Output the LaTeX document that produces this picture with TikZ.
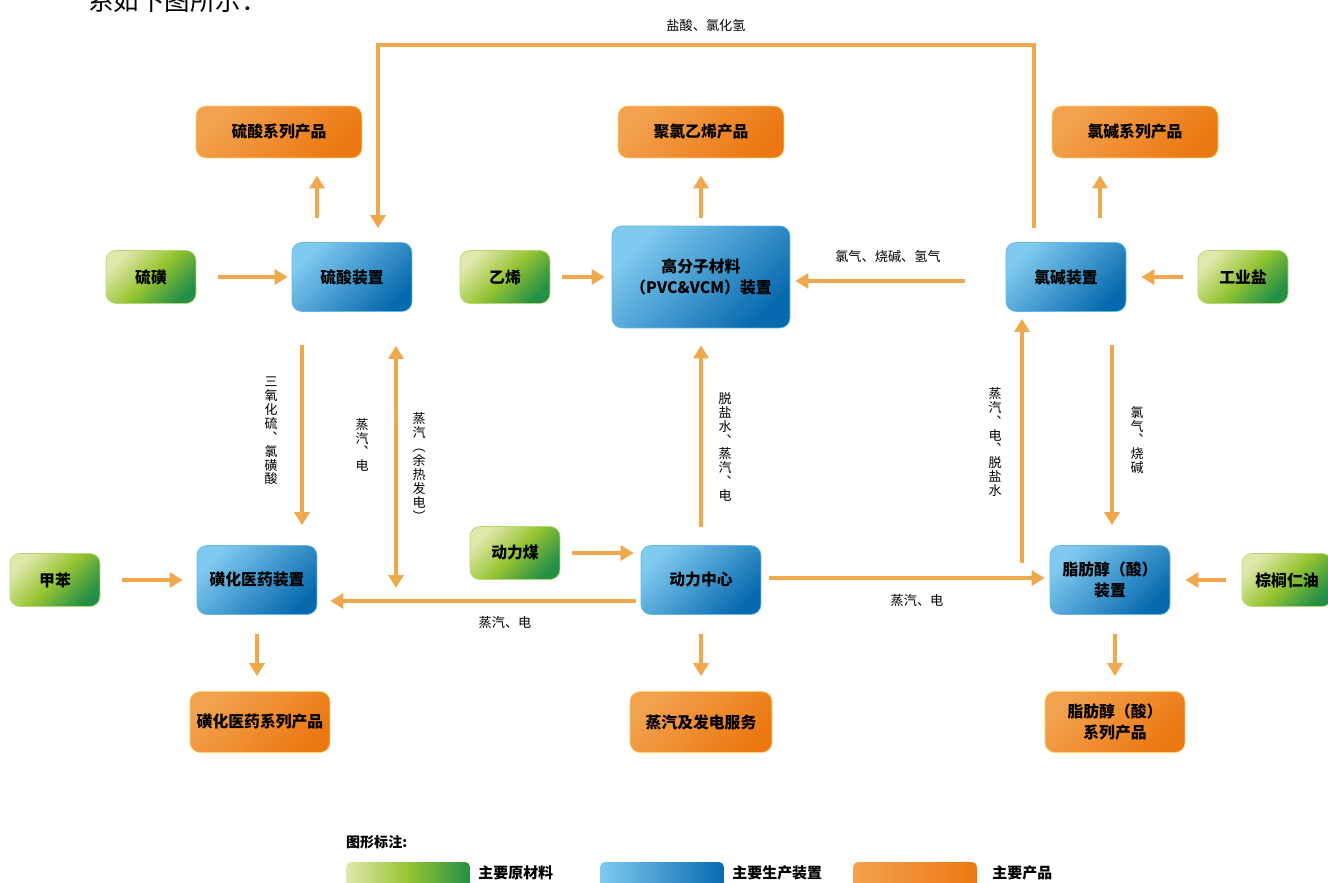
\documentclass[tikz,border=0pt]{standalone}
\usepackage{fontspec}
\setmainfont{Noto Sans CJK SC}
\usepackage{tikz}
\usetikzlibrary{arrows.meta, positioning}

\definecolor{flowc}{RGB}{239,168,76}
\definecolor{rawlt}{RGB}{224,232,172}
\definecolor{rawmd}{RGB}{150,196,50}
\definecolor{rawdk}{RGB}{36,144,70}
\definecolor{unitlt}{RGB}{128,202,240}
\definecolor{unitdk}{RGB}{8,106,174}
\definecolor{prodlt}{RGB}{242,162,78}
\definecolor{proddk}{RGB}{236,120,18}
\definecolor{prodbd}{RGB}{250,208,112}

\begin{document}
\begin{tikzpicture}[
  x=0.02cm, y=-0.02cm,
  box/.style={rectangle, rounded corners=0.2cm, align=center, inner sep=2pt, font=\fontsize{9}{12}\selectfont\bfseries},
  raw/.style={box, minimum width=1.8cm, minimum height=1.06cm, draw=rawmd!70, top color=rawlt, bottom color=rawdk, middle color=rawmd, shading angle=45},
  unit/.style={box, minimum width=2.4cm, minimum height=1.38cm, draw=unitlt!80!unitdk, top color=unitlt, bottom color=unitdk, shading angle=45},
  prod/.style={box, minimum width=3.32cm, minimum height=1.04cm, draw=prodbd, top color=prodlt, bottom color=proddk, shading angle=45},
  flow/.style={draw=flowc, line width=0.08cm, -{Triangle[width=0.3cm,length=0.26cm]}},
  flowboth/.style={draw=flowc, line width=0.08cm, {Triangle[width=0.3cm,length=0.26cm]}-{Triangle[width=0.3cm,length=0.26cm]}},
  lbl/.style={font=\fontsize{7.5}{9}\selectfont, inner sep=1pt},
  vlbl/.style={align=center, inner sep=1pt, font=\fontsize{7.4}{7.9}\selectfont},
  legbar/.style={rectangle, rounded corners=0.1cm, minimum width=2.48cm, minimum height=0.6cm},
  legtext/.style={font=\fontsize{8.5}{10}\selectfont\bfseries, inner sep=1pt}
  ]
\useasboundingbox (0,0) rectangle (1328,882);

% Nodes
\node[anchor=west, inner sep=0pt, font=\fontsize{14.5}{16}\selectfont] (intro) at (88,1) {系如下图所示：};
\node[prod] (slp) at (279,132) {硫酸系列产品};
\node[prod] (pvp) at (701,132) {聚氯乙烯产品};
\node[prod] (clp) at (1135,132) {氯碱系列产品};
\node[raw] (sl) at (151,277) {硫磺};
\node[unit] (sa) at (352,277) {硫酸装置};
\node[raw] (yx) at (505,277) {乙烯};
\node[unit, minimum width=3.56cm, minimum height=2.04cm] (pvc) at (701,277) {高分子材料\\（PVC\&VCM）装置};
\node[unit] (ca) at (1066,277) {氯碱装置};
\node[raw] (gy) at (1243,277) {工业盐};
\node[raw] (jb) at (55,580) {甲苯};
\node[unit] (hy) at (257,580) {磺化医药装置};
\node[raw] (dm) at (515,553) {动力煤};
\node[unit] (dz) at (701,580) {动力中心};
\node[unit] (zf) at (1110,580) {脂肪醇（酸）\\装置};
\node[raw] (zl) at (1287,580) {棕榈仁油};
\node[prod, minimum width=2.8cm, minimum height=1.22cm] (hyp) at (260,722) {磺化医药系列产品};
\node[prod, minimum width=2.84cm, minimum height=1.22cm] (dzp) at (701,722) {蒸汽及发电服务};
\node[prod, minimum width=2.8cm, minimum height=1.22cm] (zfp) at (1115,722) {脂肪醇（酸）\\系列产品};

% Edges
\draw[flow, shorten <=0.44cm, shorten >=0.08cm] (sl.east) -- (sa.west);
\draw[flow, shorten <=0.48cm, shorten >=0.34cm] ([xshift=-0.7cm]sa.north) -- ([xshift=-0.7cm]sa.north |- slp.south);
\coordinate (hcl) at (706,45);
\draw[flow, shorten <=0.28cm, shorten >=0.28cm] ([xshift=-0.64cm]ca.north) |- (hcl) -| ([xshift=0.52cm]sa.north);
\draw[flow, shorten <=0.24cm, shorten >=0.14cm] (yx.east) -- (pvc.west);
\draw[flow, shorten <=0.16cm, shorten >=0.34cm] (pvc.north) -- (pvp.south);
\draw[flow, shorten <=0.82cm, shorten >=0.1cm] ([yshift=-0.08cm]ca.west) -- ([yshift=-0.08cm]pvc.east);
\draw[flow, shorten <=0.3cm, shorten >=0.3cm] (gy.west) -- (ca.east);
\draw[flow, shorten <=0.48cm, shorten >=0.34cm] ([xshift=0.68cm]ca.north) -- ([xshift=0.68cm]ca.north |- clp.south);
\draw[flow, shorten <=0.66cm, shorten >=0.4cm] ([xshift=-1cm]sa.south) -- ([xshift=-1cm]sa.south |- hy.north);
\coordinate (stm) at (396,601);
\draw[flowboth, shorten <=0.68cm, shorten >=0.26cm] ([xshift=0.88cm]sa.south) -- (stm);
\draw[flow, shorten <=0.44cm, shorten >=0.28cm] (jb.east) -- (hy.west);
\draw[flow, shorten <=0.24cm, shorten >=0.14cm] (dm.east) -- (dm.east -| dz.west);
\draw[flow, shorten <=0.1cm, shorten >=0.26cm] ([yshift=-0.42cm]dz.west) -- ([yshift=-0.42cm]dz.west -| hy.east);
\draw[flow, shorten <=0.36cm, shorten >=0.34cm] (dz.north) -- (pvc.south);
\draw[flow, shorten <=0.16cm, shorten >=0.1cm] ([yshift=0.04cm]dz.east) -- ([yshift=0.04cm]dz.east -| zf.west);
\coordinate (br) at (1022,578);
\draw[flow, shorten <=0.3cm, shorten >=0.14cm] (br) -- (br |- ca.south);
\draw[flow, shorten <=0.66cm, shorten >=0.4cm] ([xshift=0.92cm]ca.south) -- ([xshift=0.92cm]ca.south |- zf.north);
\draw[flow, shorten <=0.32cm, shorten >=0.3cm] (zl.west) -- (zf.east);
\draw[flow, shorten <=0.38cm, shorten >=0.3cm] (hy.south) -- (hy.south |- hyp.north);
\draw[flow, shorten <=0.38cm, shorten >=0.3cm] (dz.south) -- (dzp.north);
\draw[flow, shorten <=0.38cm, shorten >=0.3cm] ([xshift=0.1cm]zf.south) -- ([xshift=0.1cm]zf.south |- zfp.north);

% Labels
\node[lbl] (l1) at (706,25) {盐酸、氯化氢};
\node[lbl] (l2) at (888,256) {氯气、烧碱、氢气};
\node[lbl] (l3) at (505,623) {蒸汽、电};
\node[lbl] (l4) at (917,601) {蒸汽、电};
\node[vlbl] (l5) at (271,431) {三\\氧\\化\\硫\\︑\\氯\\磺\\酸};
\node[vlbl] (l6) at (362,445) {蒸\\汽\\︑\\电};
\node[vlbl] (l7) at (419,467) {蒸\\汽\\︵\\余\\热\\发\\电\\︶};
\node[vlbl] (l8) at (725,447) {脱\\盐\\水\\︑\\蒸\\汽\\︑\\电};
\node[vlbl] (l9) at (995,442) {蒸\\汽\\︑\\电\\︑\\脱\\盐\\水};
\node[vlbl] (l10) at (1137,440) {氯\\气\\︑\\烧\\碱};

% Legend
\node[anchor=west, legtext, font=\fontsize{8}{10}\selectfont\bfseries] (lgt) at (344,842) {图形标注:};
\node[legbar, left color=rawlt, right color=rawdk, middle color=rawmd] (lg1) at (408,877) {};
\node[legtext, right=0.12cm of lg1, yshift=0.08cm] (lgl1) {主要原材料};
\node[legbar, left color=unitlt, right color=unitdk] (lg2) at (662,877) {};
\node[legtext, right=0.12cm of lg2, yshift=0.08cm] (lgl2) {主要生产装置};
\node[legbar, left color=prodlt, right color=proddk] (lg3) at (915,877) {};
\node[legtext, right=0.26cm of lg3, yshift=0.08cm] (lgl3) {主要产品};

\end{tikzpicture}
\end{document}
